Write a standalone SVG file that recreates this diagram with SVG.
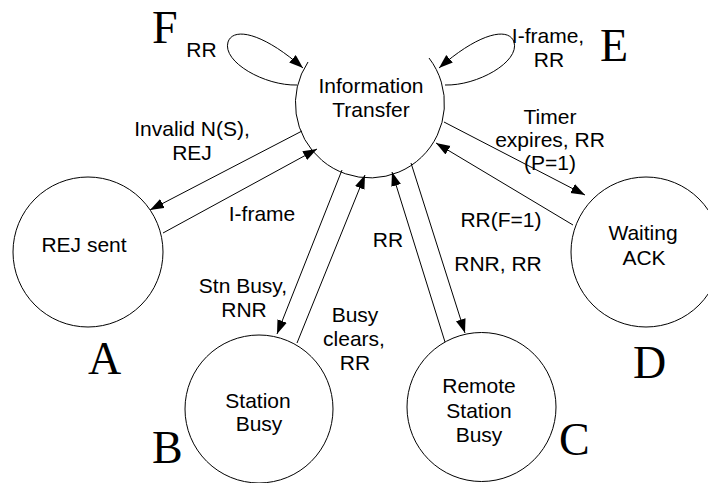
<svg xmlns="http://www.w3.org/2000/svg" width="708" height="483" viewBox="0 0 708 483">
<style>
.node{fill:none;stroke:#000;stroke-width:1}
.edge{fill:none;stroke:#000;stroke-width:1;marker-end:url(#arr)}
.t{font-family:"Liberation Sans",Arial,sans-serif;font-size:21px;fill:#000;text-anchor:middle}
.big{font-family:"Liberation Serif","Times New Roman",serif;font-size:46px;fill:#000}
</style>
<defs>
<marker id="arr" markerUnits="userSpaceOnUse" markerWidth="15" markerHeight="11" refX="14" refY="5" orient="auto">
<path d="M0,0 L14,5 L0,10 z" fill="#000"/>
</marker>
</defs>
<rect width="708" height="483" fill="#fff"/>
<g id="info">
<path class="node" d="M 308 62 A 74.5 74.5 0 1 0 429 58"/>
<text class="t" x="371" y="93">Information</text>
<text class="t" x="371" y="117">Transfer</text>
</g>
<g id="rej">
<circle class="node" cx="88" cy="252" r="75"/>
<text class="t" x="84" y="252">REJ sent</text>
</g>
<g id="station">
<circle class="node" cx="259" cy="409" r="74"/>
<text class="t" x="258" y="408">Station</text>
<text class="t" x="259" y="431">Busy</text>
</g>
<g id="remote">
<circle class="node" cx="481.5" cy="407" r="74.5"/>
<text class="t" x="479" y="393">Remote</text>
<text class="t" x="479" y="418">Station</text>
<text class="t" x="479" y="442">Busy</text>
</g>
<g id="waiting">
<circle class="node" cx="646" cy="252" r="75"/>
<text class="t" x="643" y="240">Waiting</text>
<text class="t" x="644" y="265">ACK</text>
</g>
<g id="letters">
<text class="big" x="152" y="43">F</text>
<text class="big" x="600" y="61">E</text>
<text class="big" x="88" y="374">A</text>
<text class="big" x="152" y="463">B</text>
<text class="big" x="559" y="455">C</text>
<text class="big" x="633" y="378">D</text>
</g>
<g id="labels">
<text class="t" x="201.5" y="57">RR</text>
<text class="t" x="548" y="43">I-frame,</text>
<text class="t" x="549" y="67">RR</text>
<text class="t" x="192" y="136">Invalid N(S),</text>
<text class="t" x="192" y="160">REJ</text>
<text class="t" x="262" y="221">I-frame</text>
<text class="t" x="243" y="293">Stn Busy,</text>
<text class="t" x="244" y="317">RNR</text>
<text class="t" x="355" y="322">Busy</text>
<text class="t" x="354" y="346">clears,</text>
<text class="t" x="355" y="370">RR</text>
<text class="t" x="388" y="247">RR</text>
<text class="t" x="501" y="227">RR(F=1)</text>
<text class="t" x="498" y="271">RNR, RR</text>
<text class="t" x="550" y="124">Timer</text>
<text class="t" x="550" y="147">expires, RR</text>
<text class="t" x="550" y="170">(P=1)</text>
</g>
<g id="connectors">
<path class="edge" d="M 297 85 C 265 86, 222 62, 228 42 C 233 27, 262 32, 303 68"/>
<path class="edge" d="M 445 85 C 477 86, 520 62, 514 42 C 509 27, 480 32, 439 68"/>
<path class="edge" d="M 302 131 L 150 210"/>
<path class="edge" d="M 163 233 L 317 149"/>
<path class="edge" d="M 342 170 L 277 334"/>
<path class="edge" d="M 297 343 L 365 175"/>
<path class="edge" d="M 445 342 L 392 172"/>
<path class="edge" d="M 411 163 L 465 333"/>
<path class="edge" d="M 444 122 L 585 195"/>
<path class="edge" d="M 573 225 L 436 143"/>
</g>
</svg>
